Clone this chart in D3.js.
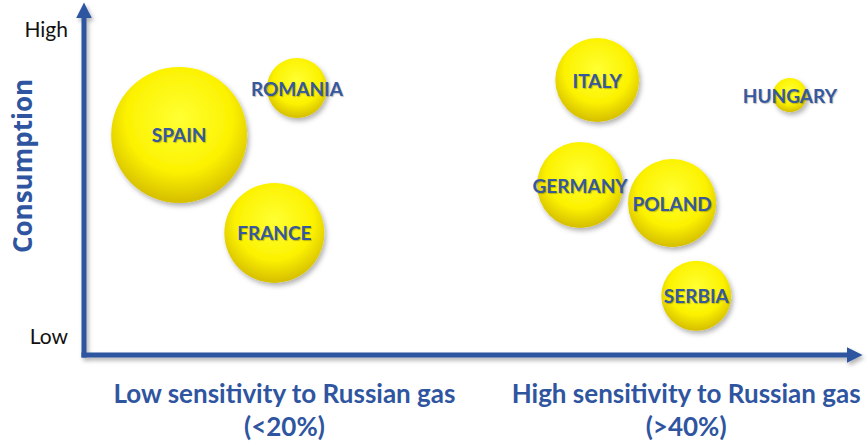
<!DOCTYPE html>
<html>
<head>
<meta charset="utf-8">
<script src="https://cdn.jsdelivr.net/npm/d3@7"></script>
<style>
  body { margin: 0; background: #fff; }
  svg { display: block; }
  .bubble-label {
    font-family: Lato, sans-serif;
    font-weight: 700;
    fill: #35589f;
    text-anchor: middle;
    dominant-baseline: central;
  }
</style>
</head>
<body>
<svg id="chart"></svg>
<script>
// chart data
const countries   = ['SPAIN', 'ROMANIA', 'FRANCE', 'ITALY', 'HUNGARY', 'GERMANY', 'POLAND', 'SERBIA']
const sensitivity = [12.2, 27.3, 24.4, 65.8, 90.5, 63.6, 75.4, 78.5]   // x, 0..100
const consumption = [65.8, 81.1, 33.9, 83.7, 78.8, 49.5, 43.6, 13.4]   // y, 0..100
const volume      = [100, 19.5, 54, 38, 6.3, 40, 42, 26.5]             // bubble area
const yTickLabels = ['Low', 'High']
const xGroupLabels = [
  ['Low sensitivity to Russian gas', '(<20%)'],
  ['High sensitivity to Russian gas', '(>40%)']
]
const xGroupPos = [25.7, 77.2]
const yTitle = 'Consumption'

const width = 867, height = 443
const blue = '#2f55a0'

const svg = d3.select('#chart')
  .attr('width', width)
  .attr('height', height)

const x = d3.scaleLinear().domain([0, 100]).range([84, 864])
const y = d3.scaleLinear().domain([0, 100]).range([337, 30])
const r = d3.scaleSqrt().domain([0, 100]).range([0, 68])

const defs = svg.append('defs')

// yellow ball gradient
const grad = defs.append('radialGradient')
  .attr('id', 'ball')
  .attr('cx', '50%').attr('cy', '38%').attr('r', '60%')
grad.append('stop').attr('offset', '0%').attr('stop-color', '#ffff33')
grad.append('stop').attr('offset', '65%').attr('stop-color', '#fcf200')
grad.append('stop').attr('offset', '100%').attr('stop-color', '#d8c200')

const shadow = defs.append('filter')
  .attr('id', 'shadow')
  .attr('x', '-30%').attr('y', '-30%').attr('width', '160%').attr('height', '160%')
shadow.append('feDropShadow')
  .attr('dx', 2).attr('dy', 3).attr('stdDeviation', 2.5)
  .attr('flood-color', '#000').attr('flood-opacity', 0.3)

const axShadow = defs.append('filter')
  .attr('id', 'axshadow')
  .attr('filterUnits', 'userSpaceOnUse')
  .attr('x', 0).attr('y', 0).attr('width', width).attr('height', height)
axShadow.append('feDropShadow')
  .attr('dx', 2).attr('dy', 3).attr('stdDeviation', 2)
  .attr('flood-color', '#000').attr('flood-opacity', 0.3)

const arrow = defs.append('marker')
  .attr('id', 'arrow')
  .attr('viewBox', '0 0 10 10')
  .attr('refX', 4).attr('refY', 5)
  .attr('markerWidth', 3.2).attr('markerHeight', 3.2)
  .attr('orient', 'auto')
arrow.append('path').attr('d', 'M0,0 L10,5 L0,10 z').attr('fill', blue)

// axes
const origin = [x(0), 355]
const axes = svg.append('g').attr('filter', 'url(#axshadow)')
axes.append('path')
  .attr('d', `M${origin[0]},${origin[1] + 2.5} L${origin[0]},12`)
  .attr('stroke', blue).attr('stroke-width', 5).attr('fill', 'none')
  .attr('marker-end', 'url(#arrow)')
axes.append('path')
  .attr('d', `M${origin[0] - 2.5},${origin[1]} L853,${origin[1]}`)
  .attr('stroke', blue).attr('stroke-width', 5).attr('fill', 'none')
  .attr('marker-end', 'url(#arrow)')

// y tick labels
const yAxis = d3.axisLeft(y)
  .tickValues([0, 100])
  .tickFormat((d, i) => yTickLabels[i])
  .tickSize(0)
  .tickPadding(16)
const yg = svg.append('g')
  .attr('transform', `translate(${x(0)},0)`)
  .call(yAxis)
yg.select('.domain').remove()
yg.selectAll('text')
  .attr('font-family', 'Lato, sans-serif')
  .attr('font-size', 21)
  .attr('fill', '#111')

// y title
svg.append('text')
  .attr('transform', 'translate(32,166) rotate(-90)')
  .attr('text-anchor', 'middle')
  .attr('font-family', 'Open Sans, sans-serif')
  .attr('font-weight', 700)
  .attr('font-size', 26)
  .attr('fill', blue)
  .text(yTitle)

// x group labels
xGroupLabels.forEach((lines, i) => {
  const t = svg.append('text')
    .attr('text-anchor', 'middle')
    .attr('font-family', 'Lato, sans-serif')
    .attr('font-weight', 700)
    .attr('font-size', 26)
    .attr('fill', blue)
  lines.forEach((s, j) => {
    t.append('tspan')
      .attr('x', x(xGroupPos[i]))
      .attr('y', 403 + j * 33)
      .text(s)
  })
})

// bubbles
const data = countries.map((c, i) => ({
  name: c, sx: sensitivity[i], cy: consumption[i], v: volume[i]
}))

const g = svg.append('g')
g.selectAll('circle')
  .data(data)
  .enter().append('circle')
    .attr('cx', d => x(d.sx))
    .attr('cy', d => y(d.cy))
    .attr('r', d => r(d.v))
    .attr('fill', 'url(#ball)')
    .attr('filter', 'url(#shadow)')

g.selectAll('text')
  .data(data)
  .enter().append('text')
    .attr('class', 'bubble-label')
    .attr('x', d => x(d.sx))
    .attr('y', d => y(d.cy))
    .attr('font-size', 19)
    .style('text-shadow', '1px 1px 1px rgba(0,0,0,0.25)')
    .text(d => d.name)
</script>
</body>
</html>
